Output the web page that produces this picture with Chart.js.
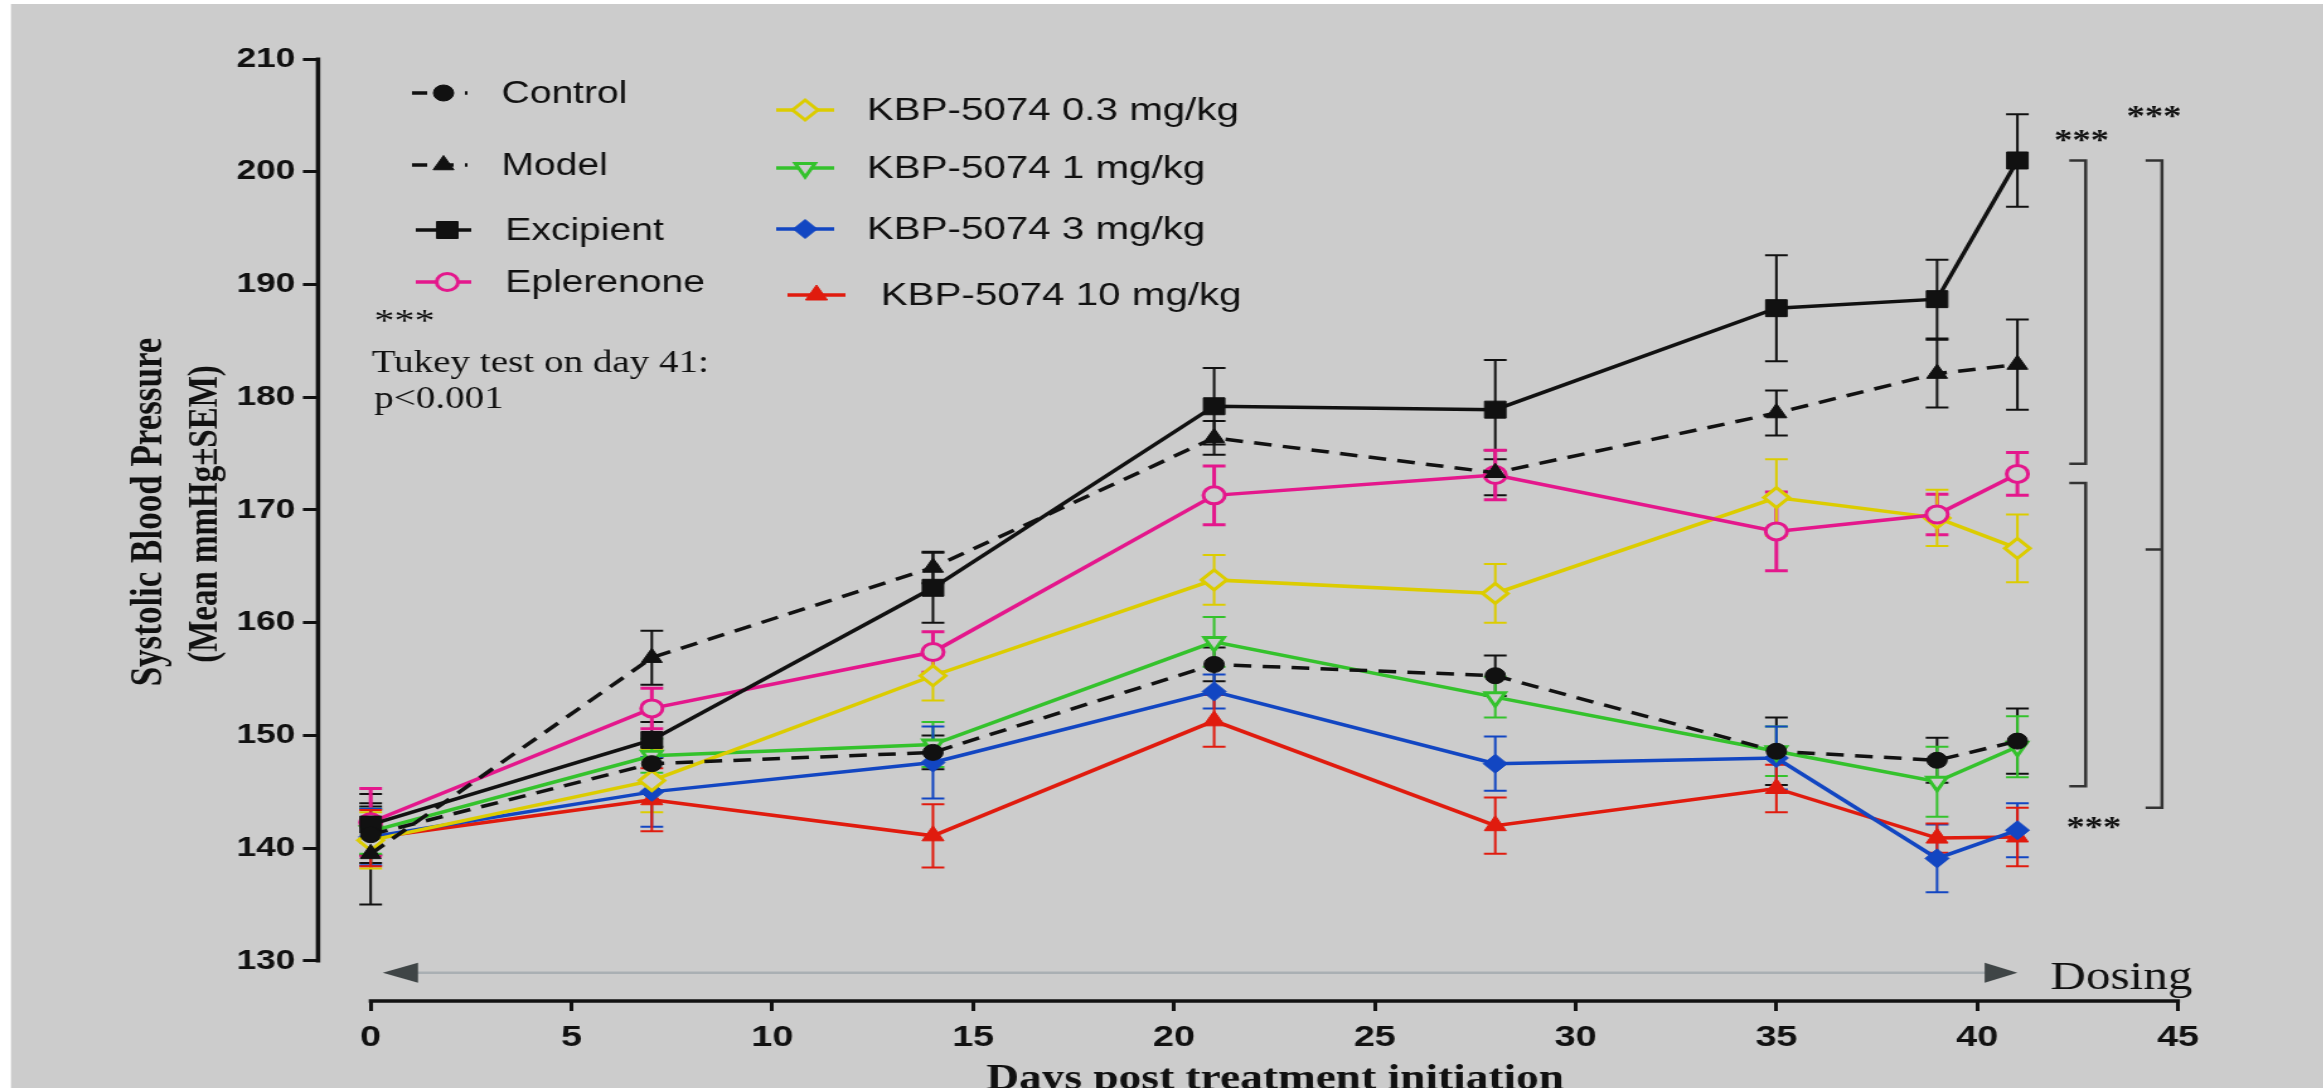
<!DOCTYPE html>
<html>
<head>
<meta charset="utf-8">
<script src="https://cdn.jsdelivr.net/npm/chart.js@4.4.1/dist/chart.umd.min.js"></script>
<style>
  html, body { margin: 0; padding: 0; background: #fff; overflow: hidden; }
  /* the original figure is stretched sideways, so the canvas is too */
  #myChart { display: block; width: 1844px; height: 1088px; transform: scaleX(1.26); transform-origin: 0 0; }
</style>
</head>
<body>
<canvas id="myChart" width="1844" height="1088"></canvas>
<script>
// days of measurement
var days = [0, 7, 14, 21, 28, 35, 39, 41];
var xTickValues = [0, 5, 10, 15, 20, 25, 30, 35, 40, 45];
var yTickValues = [130, 140, 150, 160, 170, 180, 190, 200, 210];

var seriesNames = ['Control', 'Model', 'Excipient', 'Eplerenone',
    'KBP-5074 0.3 mg/kg', 'KBP-5074 1 mg/kg', 'KBP-5074 3 mg/kg', 'KBP-5074 10 mg/kg'];

// mean systolic pressure (mmHg) and SEM
var controlMean = [141.2, 147.5, 148.5, 156.3, 155.3, 148.6, 147.8, 149.5];
var controlSem = [2.5, 1.5, 1.5, 1.5, 1.8, 3.0, 2.0, 2.9];
var modelMean = [139.5, 156.9, 164.9, 176.4, 173.3, 178.6, 182.1, 182.9];
var modelSem = [4.5, 2.4, 1.4, 1.5, 2.0, 2.0, 3.0, 4.0];
var excipientMean = [142.1, 149.6, 163.1, 179.2, 178.9, 187.9, 188.7, 201.0];
var excipientSem = [2.7, 1.6, 3.1, 3.4, 4.4, 4.7, 3.5, 4.1];
var eplerenoneMean = [142.3, 152.4, 157.4, 171.3, 173.1, 168.1, 169.6, 173.2];
var eplerenoneSem = [3.0, 1.8, 1.8, 2.6, 2.2, 3.5, 1.8, 1.9];
var kbp03Mean = [140.7, 146.0, 155.3, 163.8, 162.6, 171.1, 169.3, 166.6];
var kbp03Sem = [2.5, 2.8, 2.2, 2.2, 2.6, 3.4, 2.5, 3.0];
var kbp1Mean = [141.5, 148.2, 149.2, 158.3, 153.4, 148.6, 145.9, 149.0];
var kbp1Sem = [2.0, 1.5, 2.0, 2.2, 1.8, 2.2, 3.1, 2.7];
var kbp3Mean = [141.0, 145.0, 147.6, 153.9, 147.5, 148.0, 139.1, 141.6];
var kbp3Sem = [2.5, 3.1, 3.2, 1.5, 2.4, 2.8, 3.0, 2.4];
var kbp10Mean = [140.9, 144.3, 141.1, 151.3, 142.0, 145.3, 140.9, 141.0];
var kbp10Sem = [2.5, 2.8, 2.8, 2.3, 2.5, 2.1, 1.3, 2.6];

var BG = '#cccccc';

function makeSeries(label, mean, sem, look) {
    return {
        label: label,
        data: days.map(function(d, i) { return {x: d, y: mean[i]}; }),
        sem: sem,
        borderColor: look.color,
        backgroundColor: look.fill,
        borderWidth: 3.5,
        borderDash: look.dash || [],
        pointStyle: look.style,
        pointRadius: look.radius,
        pointRotation: look.rotation || 0,
        pointBorderWidth: look.pointBorder,
        pointBackgroundColor: look.fill,
        pointBorderColor: look.color,
        errWidth: look.errWidth,
        tension: 0
    };
}

var datasets = [
    makeSeries(seriesNames[0], controlMean, controlSem, {color: '#111', fill: '#111', style: 'circle', radius: 8, pointBorder: 1, dash: [14, 9], errWidth: 2}),
    makeSeries(seriesNames[1], modelMean, modelSem, {color: '#111', fill: '#111', style: 'triangle', radius: 9.5, pointBorder: 1, dash: [14, 9], errWidth: 2}),
    makeSeries(seriesNames[2], excipientMean, excipientSem, {color: '#111', fill: '#111', style: 'rect', radius: 12, pointBorder: 1, errWidth: 2}),
    makeSeries(seriesNames[3], eplerenoneMean, eplerenoneSem, {color: '#e4178c', fill: BG, style: 'circle', radius: 8.5, pointBorder: 3, errWidth: 3}),
    makeSeries(seriesNames[4], kbp03Mean, kbp03Sem, {color: '#dccc00', fill: BG, style: 'rectRot', radius: 10, pointBorder: 3, errWidth: 2}),
    makeSeries(seriesNames[5], kbp1Mean, kbp1Sem, {color: '#34c22c', fill: BG, style: 'triangle', rotation: 180, radius: 9, pointBorder: 3, errWidth: 2}),
    makeSeries(seriesNames[6], kbp3Mean, kbp3Sem, {color: '#1246c2', fill: '#1246c2', style: 'rectRot', radius: 9.5, pointBorder: 1, errWidth: 2}),
    makeSeries(seriesNames[7], kbp10Mean, kbp10Sem, {color: '#e01b0e', fill: '#e01b0e', style: 'triangle', radius: 10, pointBorder: 1, errWidth: 2})
];

// background with the thin white margin of the scan
var background = {
    id: 'background',
    beforeDraw: function(chart) {
        var ctx = chart.ctx;
        ctx.save();
        ctx.fillStyle = '#ffffff';
        ctx.fillRect(0, 0, chart.width, chart.height);
        ctx.fillStyle = BG;
        ctx.fillRect(11 / 1.26, 4, chart.width, chart.height);
        ctx.restore();
    }
};

// Prism style detached axis lines
var axisLines = {
    id: 'axisLines',
    beforeDatasetsDraw: function(chart) {
        var ctx = chart.ctx, xs = chart.scales.x, ys = chart.scales.y, area = chart.chartArea;
        ctx.save();
        ctx.strokeStyle = '#111';
        ctx.lineWidth = 3.5;
        ctx.beginPath();
        ctx.moveTo(area.left, ys.getPixelForValue(yTickValues[0]) + 1.5);
        ctx.lineTo(area.left, ys.getPixelForValue(yTickValues[yTickValues.length - 1]) - 1.5);
        ctx.moveTo(xs.getPixelForValue(xTickValues[0]) - 1.5, area.bottom);
        ctx.lineTo(xs.getPixelForValue(xTickValues[xTickValues.length - 1]) + 1.5, area.bottom);
        ctx.stroke();
        ctx.restore();
    }
};

var errorBars = {
    id: 'errorBars',
    beforeDatasetsDraw: function(chart) {
        var ctx = chart.ctx, xs = chart.scales.x, ys = chart.scales.y;
        chart.data.datasets.forEach(function(ds) {
            ctx.save();
            ctx.strokeStyle = ds.borderColor;
            ctx.lineWidth = ds.errWidth;
            ds.data.forEach(function(p, i) {
                var x = xs.getPixelForValue(p.x);
                var yt = ys.getPixelForValue(p.y + ds.sem[i]);
                var yb = ys.getPixelForValue(p.y - ds.sem[i]);
                ctx.beginPath();
                ctx.moveTo(x, yt); ctx.lineTo(x, yb);
                ctx.moveTo(x - 9, yt); ctx.lineTo(x + 9, yt);
                ctx.moveTo(x - 9, yb); ctx.lineTo(x + 9, yb);
                ctx.stroke();
            });
            ctx.restore();
        });
    }
};

function drawLegendEntry(ctx, ds, x0, x1, xm, y, tx, font) {
    ctx.save();
    ctx.strokeStyle = ds.borderColor;
    ctx.lineWidth = 3.5;
    ctx.setLineDash(ds.borderDash.length ? [12, 9] : []);
    ctx.beginPath();
    ctx.moveTo(x0, y);
    ctx.lineTo(x1, y);
    ctx.stroke();
    ctx.setLineDash([]);
    ctx.fillStyle = ds.pointBackgroundColor;
    ctx.strokeStyle = ds.pointBorderColor;
    ctx.lineWidth = ds.pointBorderWidth;
    Chart.helpers.drawPoint(ctx, {
        pointStyle: ds.pointStyle,
        rotation: ds.pointRotation,
        radius: ds.pointRadius,
        borderWidth: ds.pointBorderWidth
    }, xm, y);
    ctx.fillStyle = '#111';
    ctx.font = font;
    ctx.textAlign = 'left';
    ctx.textBaseline = 'middle';
    ctx.fillText(ds.label, tx, y + 1);
    ctx.restore();
}

var annotations = {
    id: 'annotations',
    afterDraw: function(chart) {
        var ctx = chart.ctx, xs = chart.scales.x, ys = chart.scales.y;
        var ds = chart.data.datasets;
        ctx.save();

        // legend, two columns
        var leftY = [93, 165, 230, 282];
        for (var i = 0; i < 4; i++) {
            var shift = i < 2 ? 0 : 3;
            drawLegendEntry(ctx, ds[i], 327 + shift, 371 + shift, 352 + shift, leftY[i], 398 + shift, '31px "Liberation Sans"');
        }
        var rightY = [110, 168, 229, 295];
        for (i = 0; i < 4; i++) {
            var s2 = i === 3 ? 9 : 0;
            drawLegendEntry(ctx, ds[i + 4], 616 + s2, 662 + s2, 639 + s2, rightY[i], 688 + s2 + (i === 3 ? 2 : 0), '32px "Liberation Sans"');
        }

        // test note
        ctx.fillStyle = '#111';
        ctx.textAlign = 'left';
        ctx.textBaseline = 'alphabetic';
        ctx.font = '32px "Liberation Serif"';
        ctx.fillText('***', 297, 331);
        ctx.font = '31px "Liberation Serif"';
        ctx.fillText('Tukey test on day 41:', 295, 372);
        ctx.fillText('p<0.001', 297, 408);

        // axis titles
        ctx.save();
        ctx.translate(119, 512);
        ctx.rotate(-Math.PI / 2);
        ctx.textAlign = 'center';
        ctx.textBaseline = 'middle';
        ctx.font = 'bold 35px "Liberation Serif"';
        ctx.fillText('Systolic Blood Pressure', 0, 0);
        ctx.restore();
        ctx.save();
        ctx.translate(163, 514);
        ctx.rotate(-Math.PI / 2);
        ctx.textAlign = 'center';
        ctx.textBaseline = 'middle';
        ctx.font = 'bold 33px "Liberation Serif"';
        ctx.fillText('(Mean mmHg\u00b1SEM)', 0, 0);
        ctx.restore();

        ctx.textAlign = 'center';
        ctx.font = 'bold 36px "Liberation Serif"';
        ctx.fillText('Days post treatment initiation', 1012, 1089);

        // dosing arrow
        var ay = ys.getPixelForValue(128.96);
        var ax0 = xs.getPixelForValue(0.3), ax1 = xs.getPixelForValue(41);
        ctx.strokeStyle = '#a9afb3';
        ctx.lineWidth = 2.5;
        ctx.beginPath();
        ctx.moveTo(ax0 + 20, ay);
        ctx.lineTo(ax1 - 20, ay);
        ctx.stroke();
        ctx.fillStyle = '#3f4546';
        ctx.beginPath();
        ctx.moveTo(ax0, ay); ctx.lineTo(ax0 + 28, ay - 10); ctx.lineTo(ax0 + 28, ay + 10); ctx.closePath();
        ctx.fill();
        ctx.beginPath();
        ctx.moveTo(ax1, ay); ctx.lineTo(ax1 - 26, ay - 10); ctx.lineTo(ax1 - 26, ay + 10); ctx.closePath();
        ctx.fill();
        ctx.fillStyle = '#111';
        ctx.textAlign = 'left';
        ctx.font = '39px "Liberation Serif"';
        ctx.fillText('Dosing', xs.getPixelForValue(41.82), ys.getPixelForValue(127.5));

        // significance brackets
        ctx.strokeStyle = '#333';
        ctx.lineWidth = 2.5;
        function bracket(xv, top, bottom, mid) {
            var bx = xs.getPixelForValue(xv);
            ctx.beginPath();
            ctx.moveTo(bx - 13, ys.getPixelForValue(top));
            ctx.lineTo(bx, ys.getPixelForValue(top));
            ctx.lineTo(bx, ys.getPixelForValue(bottom));
            ctx.lineTo(bx - 13, ys.getPixelForValue(bottom));
            if (mid !== undefined) {
                ctx.moveTo(bx, ys.getPixelForValue(mid));
                ctx.lineTo(bx - 13, ys.getPixelForValue(mid));
            }
            ctx.stroke();
        }
        bracket(42.7, 201.0, 174.1);
        bracket(42.7, 172.4, 145.5);
        bracket(44.6, 201.0, 143.6, 166.5);

        ctx.fillStyle = '#111';
        ctx.textAlign = 'center';
        ctx.font = 'bold 29px "Liberation Serif"';
        ctx.fillText('***', xs.getPixelForValue(42.6), ys.getPixelForValue(203.3) + 14);
        ctx.fillText('***', xs.getPixelForValue(44.4), ys.getPixelForValue(205.4) + 14);
        ctx.fillText('***', xs.getPixelForValue(42.9), ys.getPixelForValue(142.3) + 14);

        ctx.restore();
    }
};

Chart.defaults.font.family = '"Liberation Sans", Arial, sans-serif';
Chart.defaults.color = '#111';

var chart = new Chart(document.getElementById('myChart').getContext('2d'), {
    type: 'line',
    data: { datasets: datasets },
    options: {
        responsive: false,
        animation: false,
        layout: { padding: { left: 0, right: 115.4, top: 59, bottom: 0 } },
        plugins: {
            legend: { display: false },
            tooltip: { enabled: false }
        },
        scales: {
            x: {
                type: 'linear',
                min: -1.311,
                max: 45,
                afterBuildTicks: function(scale) {
                    scale.ticks = xTickValues.map(function(v) { return {value: v}; });
                },
                afterFit: function(scale) { scale.height = 87; },
                border: { display: false },
                grid: { display: true, drawOnChartArea: false, drawTicks: true, tickLength: 10, color: '#111', lineWidth: 3 },
                ticks: { padding: 9, maxRotation: 0, autoSkip: false, font: { size: 30, weight: 'bold' }, color: '#111' }
            },
            y: {
                min: 126.45,
                max: 210,
                afterBuildTicks: function(scale) {
                    scale.ticks = yTickValues.map(function(v) { return {value: v}; });
                },
                afterFit: function(scale) { scale.width = 252.4; },
                border: { display: false },
                grid: { display: true, drawOnChartArea: false, drawTicks: true, tickLength: 12, color: '#111', lineWidth: 3 },
                ticks: { padding: 6, autoSkip: false, font: { size: 28, weight: 'bold' }, color: '#111' }
            }
        }
    },
    plugins: [background, axisLines, errorBars, annotations]
});
</script>
</body>
</html>
